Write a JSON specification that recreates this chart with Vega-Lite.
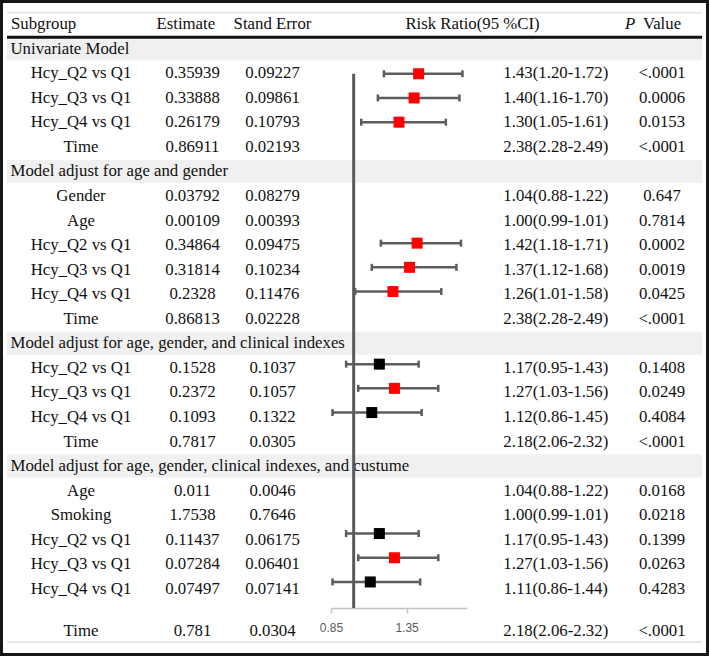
{
  "$schema": "https://vega.github.io/schema/vega-lite/v6.json",
  "width": 703,
  "height": 650,
  "padding": 3,
  "background": "#161616",
  "config": {
    "view": {"fill": "#ffffff", "stroke": null},
    "text": {"font": "Liberation Serif", "fontSize": 16.8, "color": "#111111", "baseline": "middle"},
    "axis": {"grid": false}
  },
  "datasets": {
    "header": [
      {"sub": "Subgroup", "est": "Estimate", "se": "Stand Error", "ci": "Risk Ratio(95 %CI)", "pItalic": "P", "p": "Value"}
    ],
    "rows": [
      {"row": 1, "kind": "group", "label": "Univariate Model"},
      {"row": 2, "kind": "item", "label": "Hcy_Q2 vs Q1", "est": "0.35939", "se": "0.09227", "ci": "1.43(1.20-1.72)", "p": "<.0001", "rr": 1.43, "lo": 1.20, "hi": 1.72},
      {"row": 3, "kind": "item", "label": "Hcy_Q3 vs Q1", "est": "0.33888", "se": "0.09861", "ci": "1.40(1.16-1.70)", "p": "0.0006", "rr": 1.40, "lo": 1.16, "hi": 1.70},
      {"row": 4, "kind": "item", "label": "Hcy_Q4 vs Q1", "est": "0.26179", "se": "0.10793", "ci": "1.30(1.05-1.61)", "p": "0.0153", "rr": 1.30, "lo": 1.05, "hi": 1.61},
      {"row": 5, "kind": "item", "label": "Time", "est": "0.86911", "se": "0.02193", "ci": "2.38(2.28-2.49)", "p": "<.0001"},
      {"row": 6, "kind": "group", "label": "Model adjust for age and gender"},
      {"row": 7, "kind": "item", "label": "Gender", "est": "0.03792", "se": "0.08279", "ci": "1.04(0.88-1.22)", "p": "0.647"},
      {"row": 8, "kind": "item", "label": "Age", "est": "0.00109", "se": "0.00393", "ci": "1.00(0.99-1.01)", "p": "0.7814"},
      {"row": 9, "kind": "item", "label": "Hcy_Q2 vs Q1", "est": "0.34864", "se": "0.09475", "ci": "1.42(1.18-1.71)", "p": "0.0002", "rr": 1.42, "lo": 1.18, "hi": 1.71},
      {"row": 10, "kind": "item", "label": "Hcy_Q3 vs Q1", "est": "0.31814", "se": "0.10234", "ci": "1.37(1.12-1.68)", "p": "0.0019", "rr": 1.37, "lo": 1.12, "hi": 1.68},
      {"row": 11, "kind": "item", "label": "Hcy_Q4 vs Q1", "est": "0.2328", "se": "0.11476", "ci": "1.26(1.01-1.58)", "p": "0.0425", "rr": 1.26, "lo": 1.01, "hi": 1.58},
      {"row": 12, "kind": "item", "label": "Time", "est": "0.86813", "se": "0.02228", "ci": "2.38(2.28-2.49)", "p": "<.0001"},
      {"row": 13, "kind": "group", "label": "Model adjust for age, gender, and clinical indexes"},
      {"row": 14, "kind": "item", "label": "Hcy_Q2 vs Q1", "est": "0.1528", "se": "0.1037", "ci": "1.17(0.95-1.43)", "p": "0.1408", "rr": 1.17, "lo": 0.95, "hi": 1.43},
      {"row": 15, "kind": "item", "label": "Hcy_Q3 vs Q1", "est": "0.2372", "se": "0.1057", "ci": "1.27(1.03-1.56)", "p": "0.0249", "rr": 1.27, "lo": 1.03, "hi": 1.56},
      {"row": 16, "kind": "item", "label": "Hcy_Q4 vs Q1", "est": "0.1093", "se": "0.1322", "ci": "1.12(0.86-1.45)", "p": "0.4084", "rr": 1.12, "lo": 0.86, "hi": 1.45},
      {"row": 17, "kind": "item", "label": "Time", "est": "0.7817", "se": "0.0305", "ci": "2.18(2.06-2.32)", "p": "<.0001"},
      {"row": 18, "kind": "group", "label": "Model adjust for age, gender, clinical indexes, and custume"},
      {"row": 19, "kind": "item", "label": "Age", "est": "0.011", "se": "0.0046", "ci": "1.04(0.88-1.22)", "p": "0.0168"},
      {"row": 20, "kind": "item", "label": "Smoking", "est": "1.7538", "se": "0.7646", "ci": "1.00(0.99-1.01)", "p": "0.0218"},
      {"row": 21, "kind": "item", "label": "Hcy_Q2 vs Q1", "est": "0.11437", "se": "0.06175", "ci": "1.17(0.95-1.43)", "p": "0.1399", "rr": 1.17, "lo": 0.95, "hi": 1.43},
      {"row": 22, "kind": "item", "label": "Hcy_Q3 vs Q1", "est": "0.07284", "se": "0.06401", "ci": "1.27(1.03-1.56)", "p": "0.0263", "rr": 1.27, "lo": 1.03, "hi": 1.56},
      {"row": 23, "kind": "item", "label": "Hcy_Q4 vs Q1", "est": "0.07497", "se": "0.07141", "ci": "1.11(0.86-1.44)", "p": "0.4283", "rr": 1.11, "lo": 0.86, "hi": 1.44},
      {"row": 24, "kind": "item", "label": "Time", "est": "0.781", "se": "0.0304", "ci": "2.18(2.06-2.32)", "p": "<.0001"}
    ]
  },
  "layer": [
    {
      "data": {"name": "rows"},
      "encoding": {
        "y": {"field": "row", "type": "ordinal", "axis": null,
              "scale": {"type": "band", "domain": [0,1,2,3,4,5,6,7,8,9,10,11,12,13,14,15,16,17,18,19,20,21,22,23], "range": [0, 605], "paddingInner": 0.06, "paddingOuter": 0.352, "align": 0.558}}
      },
      "layer": [
        {
          "transform": [{"filter": "datum.kind == 'group'"}],
          "mark": {"type": "rect", "color": "#f0f0f0"},
          "encoding": {
            "x": {"datum": "start", "type": "nominal", "axis": null, "scale": {"type": "point", "domain": ["start", "end"], "range": [4, 699], "padding": 0}},
            "x2": {"datum": "end"}
          }
        },
        {
          "data": {"name": "header"},
          "mark": {"type": "rule", "color": "#e8e8e8", "strokeWidth": 2},
          "encoding": {
            "x": {"datum": "start", "type": "nominal", "axis": null, "scale": {"type": "point", "domain": ["start", "end"], "range": [4, 699], "padding": 0}},
            "x2": {"datum": "end"},
            "y": {"datum": 0, "type": "ordinal", "bandPosition": 0}
          }
        },
        {
          "data": {"name": "header"},
          "mark": {"type": "rule", "color": "#111111", "strokeWidth": 3},
          "encoding": {
            "x": {"datum": "start", "type": "nominal", "axis": null, "scale": {"type": "point", "domain": ["start", "end"], "range": [4, 699], "padding": 0}},
            "x2": {"datum": "end"},
            "y": {"datum": 1, "type": "ordinal", "bandPosition": 0}
          }
        },
        {
          "transform": [{"filter": "datum.kind == 'group'"}],
          "mark": {"type": "text", "align": "left"},
          "encoding": {
            "x": {"datum": "grp", "type": "nominal", "axis": null, "scale": {"type": "point", "range": [0, 15]}},
            "text": {"field": "label"}
          }
        },
        {
          "transform": [{"filter": "datum.kind == 'item' && datum.row <= 23"}],
          "mark": "text",
          "encoding": {
            "x": {"datum": "item", "type": "nominal", "axis": null, "scale": {"type": "point", "range": [0, 156]}},
            "text": {"field": "label"}
          }
        },
        {
          "transform": [{"filter": "datum.kind == 'item' && datum.row <= 23"}],
          "mark": "text",
          "encoding": {
            "x": {"datum": "est", "type": "nominal", "axis": null, "scale": {"type": "point", "range": [156, 223]}},
            "text": {"field": "est"}
          }
        },
        {
          "transform": [{"filter": "datum.kind == 'item' && datum.row <= 23"}],
          "mark": "text",
          "encoding": {
            "x": {"datum": "se", "type": "nominal", "axis": null, "scale": {"type": "point", "range": [224, 315]}},
            "text": {"field": "se"}
          }
        },
        {
          "transform": [{"filter": "datum.kind == 'item' && datum.row <= 23"}],
          "mark": "text",
          "encoding": {
            "x": {"datum": "ci", "type": "nominal", "axis": null, "scale": {"type": "point", "range": [480, 625.6]}},
            "text": {"field": "ci"}
          }
        },
        {
          "transform": [{"filter": "datum.kind == 'item' && datum.row <= 23"}],
          "mark": "text",
          "encoding": {
            "x": {"datum": "p", "type": "nominal", "axis": null, "scale": {"type": "point", "range": [624, 694]}},
            "text": {"field": "p"}
          }
        },
        {
          "data": {"name": "header"},
          "mark": {"type": "text", "align": "left"},
          "encoding": {
            "x": {"datum": "hsub", "type": "nominal", "axis": null, "scale": {"type": "point", "range": [0, 16]}},
            "y": {"datum": 0, "type": "ordinal"},
            "text": {"field": "sub"}
          }
        },
        {
          "data": {"name": "header"},
          "mark": "text",
          "encoding": {
            "x": {"datum": "hest", "type": "nominal", "axis": null, "scale": {"type": "point", "range": [156, 209.6]}},
            "y": {"datum": 0, "type": "ordinal"},
            "text": {"field": "est"}
          }
        },
        {
          "data": {"name": "header"},
          "mark": "text",
          "encoding": {
            "x": {"datum": "hse", "type": "nominal", "axis": null, "scale": {"type": "point", "range": [224, 315]}},
            "y": {"datum": 0, "type": "ordinal"},
            "text": {"field": "se"}
          }
        },
        {
          "data": {"name": "header"},
          "mark": "text",
          "encoding": {
            "x": {"datum": "hci", "type": "nominal", "axis": null, "scale": {"type": "point", "range": [314, 625]}},
            "y": {"datum": 0, "type": "ordinal"},
            "text": {"field": "ci"}
          }
        },
        {
          "data": {"name": "header"},
          "mark": {"type": "text", "fontStyle": "italic"},
          "encoding": {
            "x": {"datum": "hpi", "type": "nominal", "axis": null, "scale": {"type": "point", "range": [620, 634]}},
            "y": {"datum": 0, "type": "ordinal"},
            "text": {"field": "pItalic"}
          }
        },
        {
          "data": {"name": "header"},
          "mark": "text",
          "encoding": {
            "x": {"datum": "hp", "type": "nominal", "axis": null, "scale": {"type": "point", "range": [624, 694]}},
            "y": {"datum": 0, "type": "ordinal"},
            "text": {"field": "p"}
          }
        }
      ],
      "resolve": {"scale": {"x": "independent"}}
    },
    {
      "data": {"name": "rows"},
      "encoding": {
        "y": {"field": "row", "type": "ordinal", "axis": null,
              "scale": {"type": "band", "domain": [24], "range": [605, 650], "paddingInner": 0, "paddingOuter": 0.478}}
      },
      "layer": [
        {
          "transform": [{"filter": "datum.row == 24"}],
          "mark": "text",
          "encoding": {
            "x": {"datum": "item", "type": "nominal", "axis": null, "scale": {"type": "point", "range": [0, 156]}},
            "text": {"field": "label"}
          }
        },
        {
          "transform": [{"filter": "datum.row == 24"}],
          "mark": "text",
          "encoding": {
            "x": {"datum": "est", "type": "nominal", "axis": null, "scale": {"type": "point", "range": [156, 223]}},
            "text": {"field": "est"}
          }
        },
        {
          "transform": [{"filter": "datum.row == 24"}],
          "mark": "text",
          "encoding": {
            "x": {"datum": "se", "type": "nominal", "axis": null, "scale": {"type": "point", "range": [224, 315]}},
            "text": {"field": "se"}
          }
        },
        {
          "transform": [{"filter": "datum.row == 24"}],
          "mark": "text",
          "encoding": {
            "x": {"datum": "ci", "type": "nominal", "axis": null, "scale": {"type": "point", "range": [480, 625.6]}},
            "text": {"field": "ci"}
          }
        },
        {
          "transform": [{"filter": "datum.row == 24"}],
          "mark": "text",
          "encoding": {
            "x": {"datum": "p", "type": "nominal", "axis": null, "scale": {"type": "point", "range": [624, 694]}},
            "text": {"field": "p"}
          }
        },
        {
          "data": {"name": "header"},
          "mark": {"type": "rule", "color": "#e8e8e8", "strokeWidth": 2},
          "encoding": {
            "x": {"datum": "start", "type": "nominal", "axis": null, "scale": {"type": "point", "domain": ["start", "end"], "range": [4, 699], "padding": 0}},
            "x2": {"datum": "end"},
            "y": {"datum": 24, "type": "ordinal", "bandPosition": 1}
          }
        }
      ],
      "resolve": {"scale": {"x": "independent"}}
    },
    {
      "data": {"name": "rows"},
      "encoding": {
        "y": {"field": "row", "type": "ordinal", "axis": null,
              "scale": {"type": "point", "domain": [0,1,2,3,4,5,6,7,8,9,10,11,12,13,14,15,16,17,18,19,20,21,22,23], "range": [0, 605], "padding": 1.136, "align": 0.4618}}
      },
      "layer": [
        {
          "data": {"name": "header"},
          "mark": {"type": "rule", "color": "#5a5a5a", "strokeWidth": 3},
          "encoding": {
            "x": {"datum": 1, "type": "quantitative",
                  "scale": {"domain": [0.85, 1.75], "range": [328, 464], "nice": false, "zero": false},
                  "axis": {"orient": "bottom", "values": [0.85, 1.35], "format": ".2f", "offset": -45, "title": null, "grid": false, "domainColor": "#c4c4c4", "domainWidth": 1.5, "tickColor": "#c4c4c4", "tickWidth": 1.5, "tickSize": 5, "labelColor": "#5a5a5a", "labelFont": "Liberation Sans", "labelFontSize": 12, "labelPadding": 9, "labelFlush": false}},
            "y": {"datum": 2, "type": "ordinal"},
            "y2": {"value": {"expr": "height - 45"}}
          }
        },
        {
          "transform": [{"filter": "isValid(datum.rr)"}],
          "mark": {"type": "rule", "color": "#5c5c5c", "strokeWidth": 2.5},
          "encoding": {
            "x": {"field": "lo", "type": "quantitative",
                  "scale": {"domain": [0.85, 1.75], "range": [328, 464], "nice": false, "zero": false},
                  "axis": {"orient": "bottom", "values": [0.85, 1.35], "format": ".2f", "offset": -45, "title": null, "grid": false, "domainColor": "#c4c4c4", "domainWidth": 1.5, "tickColor": "#c4c4c4", "tickWidth": 1.5, "tickSize": 5, "labelColor": "#5a5a5a", "labelFont": "Liberation Sans", "labelFontSize": 12, "labelPadding": 9, "labelFlush": false}},
            "x2": {"field": "hi"}
          }
        },
        {
          "transform": [{"filter": "isValid(datum.rr)"}, {"fold": ["lo", "hi"], "as": ["end", "v"]}],
          "mark": {"type": "tick", "orient": "vertical", "color": "#5c5c5c", "size": 7, "thickness": 2.5, "opacity": 1},
          "encoding": {
            "x": {"field": "v", "type": "quantitative",
                  "scale": {"domain": [0.85, 1.75], "range": [328, 464], "nice": false, "zero": false},
                  "axis": {"orient": "bottom", "values": [0.85, 1.35], "format": ".2f", "offset": -45, "title": null, "grid": false, "domainColor": "#c4c4c4", "domainWidth": 1.5, "tickColor": "#c4c4c4", "tickWidth": 1.5, "tickSize": 5, "labelColor": "#5a5a5a", "labelFont": "Liberation Sans", "labelFontSize": 12, "labelPadding": 9, "labelFlush": false}}
          }
        },
        {
          "transform": [{"filter": "isValid(datum.rr)"}],
          "mark": {"type": "square", "size": 121, "filled": true, "opacity": 1},
          "encoding": {
            "x": {"field": "rr", "type": "quantitative",
                  "scale": {"domain": [0.85, 1.75], "range": [328, 464], "nice": false, "zero": false},
                  "axis": {"orient": "bottom", "values": [0.85, 1.35], "format": ".2f", "offset": -45, "title": null, "grid": false, "domainColor": "#c4c4c4", "domainWidth": 1.5, "tickColor": "#c4c4c4", "tickWidth": 1.5, "tickSize": 5, "labelColor": "#5a5a5a", "labelFont": "Liberation Sans", "labelFontSize": 12, "labelPadding": 9, "labelFlush": false}},
            "color": {"condition": {"test": "datum.lo > 1", "value": "#ff0000"}, "value": "#000000"}
          }
        }
      ]
    }
  ],
  "resolve": {"scale": {"x": "independent", "y": "independent"}}
}
